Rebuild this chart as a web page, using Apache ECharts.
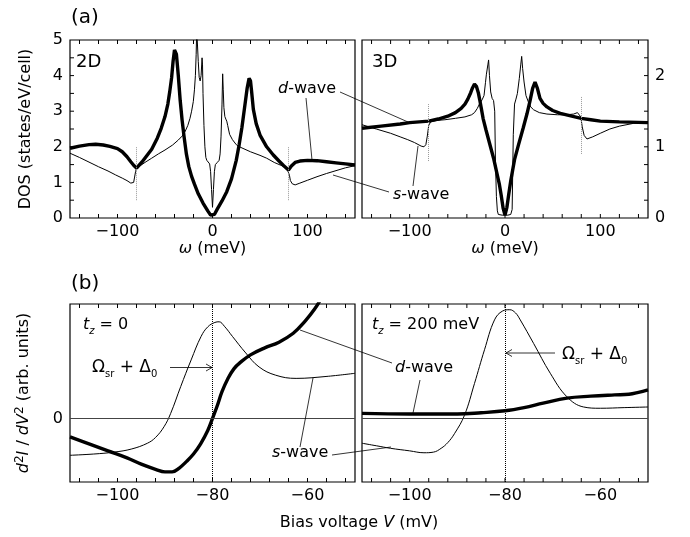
<!DOCTYPE html>
<html><head><meta charset="utf-8">
<script src="https://cdn.jsdelivr.net/npm/echarts@6/dist/echarts.min.js"></script>
<style>html,body{margin:0;padding:0;background:#fff}#c{width:690px;height:537px}</style>
</head><body><div id="c"></div>
<script>
const FONT = 'DejaVu Sans';

// ---------- Data ----------
// Panel (a) 2D: DOS vs omega (meV)
const dos2D_dwave = [[-150,1.96],[-140,2.02],[-130,2.06],[-123,2.07],[-115,2.05],[-108,2.01],[-100,1.95],[-95,1.86],[-90,1.72],[-86,1.58],[-83,1.48],[-80,1.40],[-78,1.45],[-74,1.58],[-70,1.72],[-64,1.93],[-58,2.25],[-54,2.52],[-50,2.85],[-47,3.2],[-45,3.55],[-43,3.95],[-41.5,4.4],[-40,4.72],[-39,4.75],[-38,4.6],[-37,4.3],[-36,4.0],[-34,3.3],[-32,2.75],[-30,2.3],[-27.5,1.8],[-25,1.45],[-22,1.17],[-19,0.95],[-15,0.68],[-10,0.42],[-5,0.2],[-2,0.08],[0,0.03],[2,0.1],[5,0.25],[10,0.48],[15,0.74],[20,1.1],[25,1.62],[28,2.05],[31,2.55],[34,3.15],[36.5,3.65],[38.5,3.92],[40,3.85],[41,3.6],[43,3.05],[46,2.65],[50,2.33],[57,2.0],[64,1.77],[70,1.6],[75,1.47],[80,1.35],[83,1.46],[87,1.56],[92,1.6],[100,1.62],[110,1.61],[120,1.58],[130,1.55],[140,1.52],[150,1.49]];
const dos2D_swave = [[-150,1.82],[-140,1.70],[-130,1.57],[-120,1.44],[-110,1.32],[-102,1.21],[-95,1.12],[-90,1.05],[-86,0.98],[-84,0.97],[-83,1.0],[-82,1.15],[-81,1.3],[-80,1.40],[-75,1.49],[-70,1.58],[-64,1.68],[-57,1.80],[-50,1.91],[-42,2.05],[-36,2.19],[-32,2.3],[-29,2.42],[-26,2.6],[-23.7,2.8],[-22,3.0],[-20.2,3.27],[-19,3.6],[-18,4.0],[-17.2,4.6],[-16.6,5.3],[-15.8,5.3],[-15,4.4],[-14,3.95],[-13,3.85],[-12,4.0],[-11,4.5],[-10.5,4.3],[-10,3.5],[-9,2.6],[-8,2.0],[-7,1.7],[-6,1.62],[-4.5,1.58],[-3,1.52],[-2,1.3],[-1,0.8],[0,0.3],[1,0.8],[2,1.3],[3,1.5],[5,1.56],[7,1.62],[8,1.8],[9,2.3],[10,3.2],[10.7,4.05],[11.3,3.6],[12,3.1],[13,2.85],[14,2.78],[15,2.72],[16,2.6],[18,2.35],[21,2.2],[25,2.06],[30,1.98],[40,1.86],[50,1.76],[57,1.68],[65,1.56],[72,1.48],[78,1.42],[80,1.38],[81,1.2],[82,1.05],[84,0.96],[87,0.93],[92,0.98],[100,1.06],[110,1.16],[120,1.25],[130,1.33],[140,1.41],[150,1.47]];
// Panel (a) 3D
const dos3D_dwave = [[-150,1.26],[-130,1.29],[-110,1.32],[-100,1.34],[-90,1.35],[-80,1.36],[-70,1.39],[-60,1.43],[-52,1.48],[-46,1.54],[-42,1.6],[-39,1.67],[-36,1.76],[-34,1.83],[-32,1.88],[-30,1.85],[-28,1.76],[-26.5,1.66],[-25,1.55],[-23,1.40],[-20,1.24],[-16,1.04],[-12,0.84],[-9,0.66],[-6,0.48],[-4,0.32],[-2,0.14],[0,0.04],[2,0.15],[4,0.34],[6,0.52],[10,0.82],[14,1.02],[19,1.26],[23,1.46],[26,1.63],[29,1.82],[31.5,1.91],[34,1.82],[36.7,1.68],[40,1.61],[44,1.56],[50,1.51],[58,1.47],[70,1.43],[80,1.40],[90,1.38],[100,1.36],[120,1.35],[150,1.34]];
const dos3D_swave = [[-150,1.31],[-135,1.25],[-120,1.19],[-110,1.14],[-102,1.10],[-95,1.06],[-88,1.01],[-85,1.0],[-83,1.03],[-81.5,1.15],[-80,1.30],[-78,1.35],[-72,1.37],[-63,1.38],[-52,1.4],[-42,1.42],[-35,1.45],[-32,1.48],[-29,1.54],[-26.5,1.61],[-24,1.66],[-22,1.72],[-20.5,1.9],[-19.5,2.02],[-18,2.15],[-17.2,2.22],[-16.3,2.0],[-15,1.77],[-13.5,1.68],[-12,1.65],[-10.8,1.5],[-10,0.8],[-9,0.3],[-8,0.1],[-7,0.05],[-3,0.04],[0,0.04],[3,0.04],[6,0.05],[7.5,0.12],[8.7,1.17],[10,1.6],[11.5,1.67],[13,1.75],[15,1.96],[16.5,2.15],[17.5,2.27],[18.5,2.1],[20,1.91],[22,1.72],[24.5,1.63],[27,1.56],[30,1.52],[36,1.48],[44,1.46],[55,1.45],[65,1.45],[72,1.46],[76,1.48],[78,1.47],[79.5,1.42],[81,1.28],[83,1.16],[86,1.11],[92,1.14],[100,1.19],[110,1.25],[120,1.29],[135,1.33],[150,1.34]];
// Panel (b) t_z = 0 : d2I/dV2 vs bias (mV)
const d2i_tz0_dwave = [[-110,-0.29],[-106,-0.4],[-102,-0.51],[-98,-0.62],[-95,-0.72],[-92,-0.8],[-90,-0.84],[-88.5,-0.84],[-87,-0.78],[-85.5,-0.68],[-84,-0.56],[-82.5,-0.4],[-81,-0.19],[-80,0.0],[-79,0.2],[-78,0.42],[-76.8,0.62],[-75.5,0.78],[-74,0.89],[-72,1.0],[-69,1.11],[-66,1.2],[-63,1.34],[-60.5,1.53],[-58.5,1.72],[-57,1.9]];
const d2i_tz0_swave = [[-110,-0.58],[-105,-0.56],[-100.7,-0.53],[-97,-0.48],[-93.7,-0.39],[-92,-0.3],[-90.2,-0.13],[-88.8,0.08],[-86.7,0.5],[-84.5,0.92],[-82.4,1.29],[-81,1.44],[-79.5,1.51],[-78.6,1.52],[-77.5,1.45],[-75.8,1.29],[-73,1.03],[-70.2,0.81],[-66.7,0.68],[-62.4,0.63],[-56.1,0.66],[-50,0.71]];
// Panel (b) t_z = 200 meV
const d2i_tz200_dwave = [[-110,0.08],[-100,0.07],[-90,0.07],[-85,0.09],[-80,0.12],[-76,0.17],[-72,0.24],[-67,0.32],[-62,0.35],[-57,0.37],[-54,0.38],[-52,0.41],[-50,0.45]];
const d2i_tz200_swave = [[-110,-0.39],[-107,-0.43],[-104,-0.47],[-100,-0.51],[-97,-0.54],[-95,-0.53],[-93.4,-0.47],[-92,-0.38],[-90.6,-0.24],[-88.5,0.05],[-86.4,0.55],[-84.3,1.08],[-82.2,1.55],[-80.5,1.69],[-79,1.71],[-77.8,1.66],[-76.8,1.55],[-74,1.18],[-70.5,0.71],[-67,0.34],[-63.5,0.18],[-60,0.16],[-55,0.17],[-50,0.18]];

// Ticks and labels
const omegaTicks = [-140,-120,-100,-80,-60,-40,-20,0,20,40,60,80,100,120,140];
const omegaLabels = [-100,0,100];
const dos2DTicks = [0.5,1,1.5,2,2.5,3,3.5,4,4.5];
const dos2DLabels = [0,1,2,3,4,5];
const dos3DTicks = [0.25,0.5,0.75,1,1.25,1.5,1.75,2,2.25];
const dos3DLabels = [0,1,2];
const biasTicks = [-108,-104,-100,-96,-92,-88,-84,-80,-76,-72,-68,-64,-60,-56,-52];
const biasLabels = [-100,-80,-60];
const d2iLabels = [0];
// Reference markers
const gapMarks2D = [[-80,0.5,2.0],[80,0.5,2.0]];
const gapMarks3D = [[-80,0.8,1.6],[80,0.9,1.7]];
const resonanceBias = -80;

// ---------- Chart ----------
const fmt = v => String(v).replace('-', '\u2212');
function richName() {
  return {
    i:{fontStyle:'italic', fontFamily:FONT, fontSize:16, color:'#000'},
    n:{fontFamily:FONT, fontSize:16, color:'#000'},
    u:{fontFamily:FONT, fontSize:12, color:'#000', verticalAlign:'top', lineHeight:20}
  };
}
function xAx(gi, min, max, labels, name) {
  return {
    type:'value', gridIndex:gi, min, max,
    axisLine:{show:false, onZero:false},
    splitLine:{show:false},
    axisTick:{show:false},
    axisLabel:{show:true, customValues:labels, formatter:fmt, color:'#000', fontFamily:FONT, fontSize:16, margin:6},
    name: name || '', nameLocation:'middle', nameGap:21,
    nameTextStyle:{color:'#000', fontFamily:FONT, fontSize:16, rich:richName()}
  };
}
function yAx(gi, min, max, labels, pos, name) {
  const a = {
    type:'value', gridIndex:gi, min, max,
    axisLine:{show:false, onZero:false},
    splitLine:{show:false},
    axisTick:{show:false},
    axisLabel:{show:!!labels, formatter:fmt, color:'#000', fontFamily:FONT, fontSize:16, margin:7},
    name: name || '', nameLocation:'middle', nameGap:36,
    nameTextStyle:{color:'#000', fontFamily:FONT, fontSize:16, rich:richName()}
  };
  if (pos === 'right') a.position = 'right';
  if (labels) a.axisLabel.customValues = labels;
  return a;
}
function vmarks(arr) {
  return arr.map(m => [{coord:[m[0], m[1]]}, {coord:[m[0], m[2]]}]);
}
function line(data, xi, yi, thick, extra) {
  return Object.assign({
    type:'line', data, xAxisIndex:xi, yAxisIndex:yi, symbol:'none', showSymbol:false,
    lineStyle:{color:'#000', width: thick ? 3.4 : 1},
    clip:true, silent:true
  }, extra || {});
}
const gridBoxes = [[70,40,285,178],[362,40,286,178],[70,304,285,178],[362,304,286,178]];
function grid(b) {
  return {left:b[0], top:b[1], width:b[2], height:b[3], show:true, borderColor:'#000', borderWidth:1.2};
}
const axisRanges = [[-150,150,0,5],[-150,150,0,2.5],[-110,-50,-1,1.8],[-110,-50,-1,1.8]];
const option = {
  animation:false,
  color:['#000'],
  grid:gridBoxes.map(grid),
  xAxis:[
    xAx(0,-150,150,omegaLabels,'{i|ω} {n|(meV)}'),
    xAx(1,-150,150,omegaLabels,'{i|ω} {n|(meV)}'),
    xAx(2,-110,-50,biasLabels),
    xAx(3,-110,-50,biasLabels)
  ],
  yAxis:[
    yAx(0,0,5,dos2DLabels,'left','{n|DOS (states/eV/cell)}'),
    yAx(1,0,2.5,dos3DLabels,'right'),
    yAx(2,-1,1.8,d2iLabels,'left','{i|d}{u|2}{i|I}{n| / }{i|dV}{u|2}{n| (arb. units)}'),
    yAx(3,-1,1.8,null,'left')
  ],
  series:[
    line(dos2D_swave,0,0,false,{markLine:{silent:true, symbol:['none','none'], label:{show:false},
      lineStyle:{type:'dotted', color:'#999', width:1}, data:vmarks(gapMarks2D)}}),
    line(dos2D_dwave,0,0,true),
    line(dos3D_swave,1,1,false,{markLine:{silent:true, symbol:['none','none'], label:{show:false},
      lineStyle:{type:'dotted', color:'#999', width:1}, data:vmarks(gapMarks3D)}}),
    line(dos3D_dwave,1,1,true),
    line(d2i_tz0_swave,2,2,false,{smooth:0.4, markLine:{silent:true, symbol:['none','none'], label:{show:false},
      data:[{yAxis:0, lineStyle:{type:'solid', color:'#444', width:1}},
            {xAxis:resonanceBias, lineStyle:{type:'dotted', color:'#000', width:1}}]}}),
    line(d2i_tz0_dwave,2,2,true,{smooth:0.4}),
    line(d2i_tz200_swave,3,3,false,{smooth:0.4, markLine:{silent:true, symbol:['none','none'], label:{show:false},
      data:[{yAxis:0, lineStyle:{type:'solid', color:'#444', width:1}},
            {xAxis:resonanceBias, lineStyle:{type:'dotted', color:'#000', width:1}}]}}),
    line(d2i_tz200_dwave,3,3,true,{smooth:0.4})
  ]
};

function txt(x, y, text, size, align, rich) {
  return {type:'text', x, y, silent:true, z:10, style:{text, fill:'#000', fontFamily:FONT, fontSize:size,
    align: align || 'left', verticalAlign:'middle', rich: rich || undefined}};
}
function seg(x1,y1,x2,y2,w) {
  return {type:'line', silent:true, z:10, shape:{x1,y1,x2,y2}, style:{stroke:'#000', lineWidth:w || 0.8}};
}
function arrow(x1,y,x2) {
  const d = x2 > x1 ? -1 : 1;
  return [seg(x1,y,x2,y,0.8),
    {type:'polyline', silent:true, z:10, shape:{points:[[x2+d*6,y-3.5],[x2,y],[x2+d*6,y+3.5]]}, style:{stroke:'#000', lineWidth:0.8, fill:null}}];
}
function buildGraphics() {
  const R = {
    i:{fontStyle:'italic', fontFamily:FONT, fontSize:16, lineHeight:22, fill:'#000'},
    n:{fontFamily:FONT, fontSize:16, lineHeight:22, fill:'#000'},
    si:{fontStyle:'italic', fontFamily:FONT, fontSize:10, lineHeight:13, verticalAlign:'bottom', fill:'#000'},
    s:{fontFamily:FONT, fontSize:10, lineHeight:13, verticalAlign:'bottom', fill:'#000'},
    N:{fontFamily:FONT, fontSize:17, lineHeight:22, fill:'#000'}
  };
  const g = [
    txt(71, 18, '(a)', 20),
    txt(71, 284, '(b)', 20),
    txt(76, 62, '2D', 18),
    txt(372, 62, '3D', 18),
    txt(278, 89, '{i|d}{n|-wave}', 16, 'left', R),
    seg(306,98,312,160), seg(340,92,408,122),
    txt(393, 195, '{i|s}{n|-wave}', 16, 'left', R),
    seg(389,192,333,175), seg(413,186,418,146),
    txt(83, 325, '{i|t}{si|z}{n| = 0}', 16, 'left', R),
    txt(372, 325, '{i|t}{si|z}{n| = 200 meV}', 16, 'left', R),
    txt(92, 368, '{N|Ω}{s|sr}{N| + Δ}{s|0}', 17, 'left', R),
    txt(562, 355, '{N|Ω}{s|sr}{N| + Δ}{s|0}', 17, 'left', R),
    txt(395, 368, '{i|d}{n|-wave}', 16, 'left', R),
    seg(300,330,392,363), seg(420,380,413,413),
    txt(272, 453, '{i|s}{n|-wave}', 16, 'left', R),
    seg(300,447,313,378), seg(332,455,391,447),
    txt(359, 523, '{n|Bias voltage }{i|V}{n| (mV)}', 16, 'center', R)
  ];
  return g.concat(arrow(170,367.5,212), arrow(555,353,506));
}

// Map a data point of grid i to pixels: library first, grid geometry as fallback
function toPx(chart, i, x, y) {
  let p = null;
  try { p = chart.convertToPixel({gridIndex:i}, [x, y]); } catch (e) { p = null; }
  if (!p || !isFinite(p[0]) || !isFinite(p[1])) {
    const b = gridBoxes[i], r = axisRanges[i];
    p = [b[0] + (x - r[0]) / (r[1] - r[0]) * b[2], b[1] + b[3] - (y - r[2]) / (r[3] - r[2]) * b[3]];
  }
  return p;
}
// Inward tick marks on the panel frames
function tickGraphics(chart) {
  const specs = [
    {i:0, xt:omegaTicks, yt:dos2DTicks, side:'left'},
    {i:1, xt:omegaTicks, yt:dos3DTicks, side:'right'},
    {i:2, xt:biasTicks, yt:null},
    {i:3, xt:biasTicks, yt:null}
  ];
  const out = [];
  const L = 4;
  specs.forEach(s => {
    const r = axisRanges[s.i];
    s.xt.forEach(v => {
      const pb = toPx(chart, s.i, v, r[2]);
      const pt = toPx(chart, s.i, v, r[3]);
      out.push(seg(pb[0], pb[1], pb[0], pb[1] - L, 1), seg(pt[0], pt[1], pt[0], pt[1] + L, 1));
    });
    if (s.yt) {
      s.yt.forEach(v => {
        if (s.side === 'left') { const p = toPx(chart, s.i, r[0], v); out.push(seg(p[0], p[1], p[0] + L, p[1], 1)); }
        else { const p = toPx(chart, s.i, r[1], v); out.push(seg(p[0], p[1], p[0] - L, p[1], 1)); }
      });
    }
  });
  return out;
}

const chart = echarts.init(document.getElementById('c'));
chart.setOption(option);
chart.setOption({graphic: buildGraphics().concat(tickGraphics(chart))});
</script>
</body></html>
